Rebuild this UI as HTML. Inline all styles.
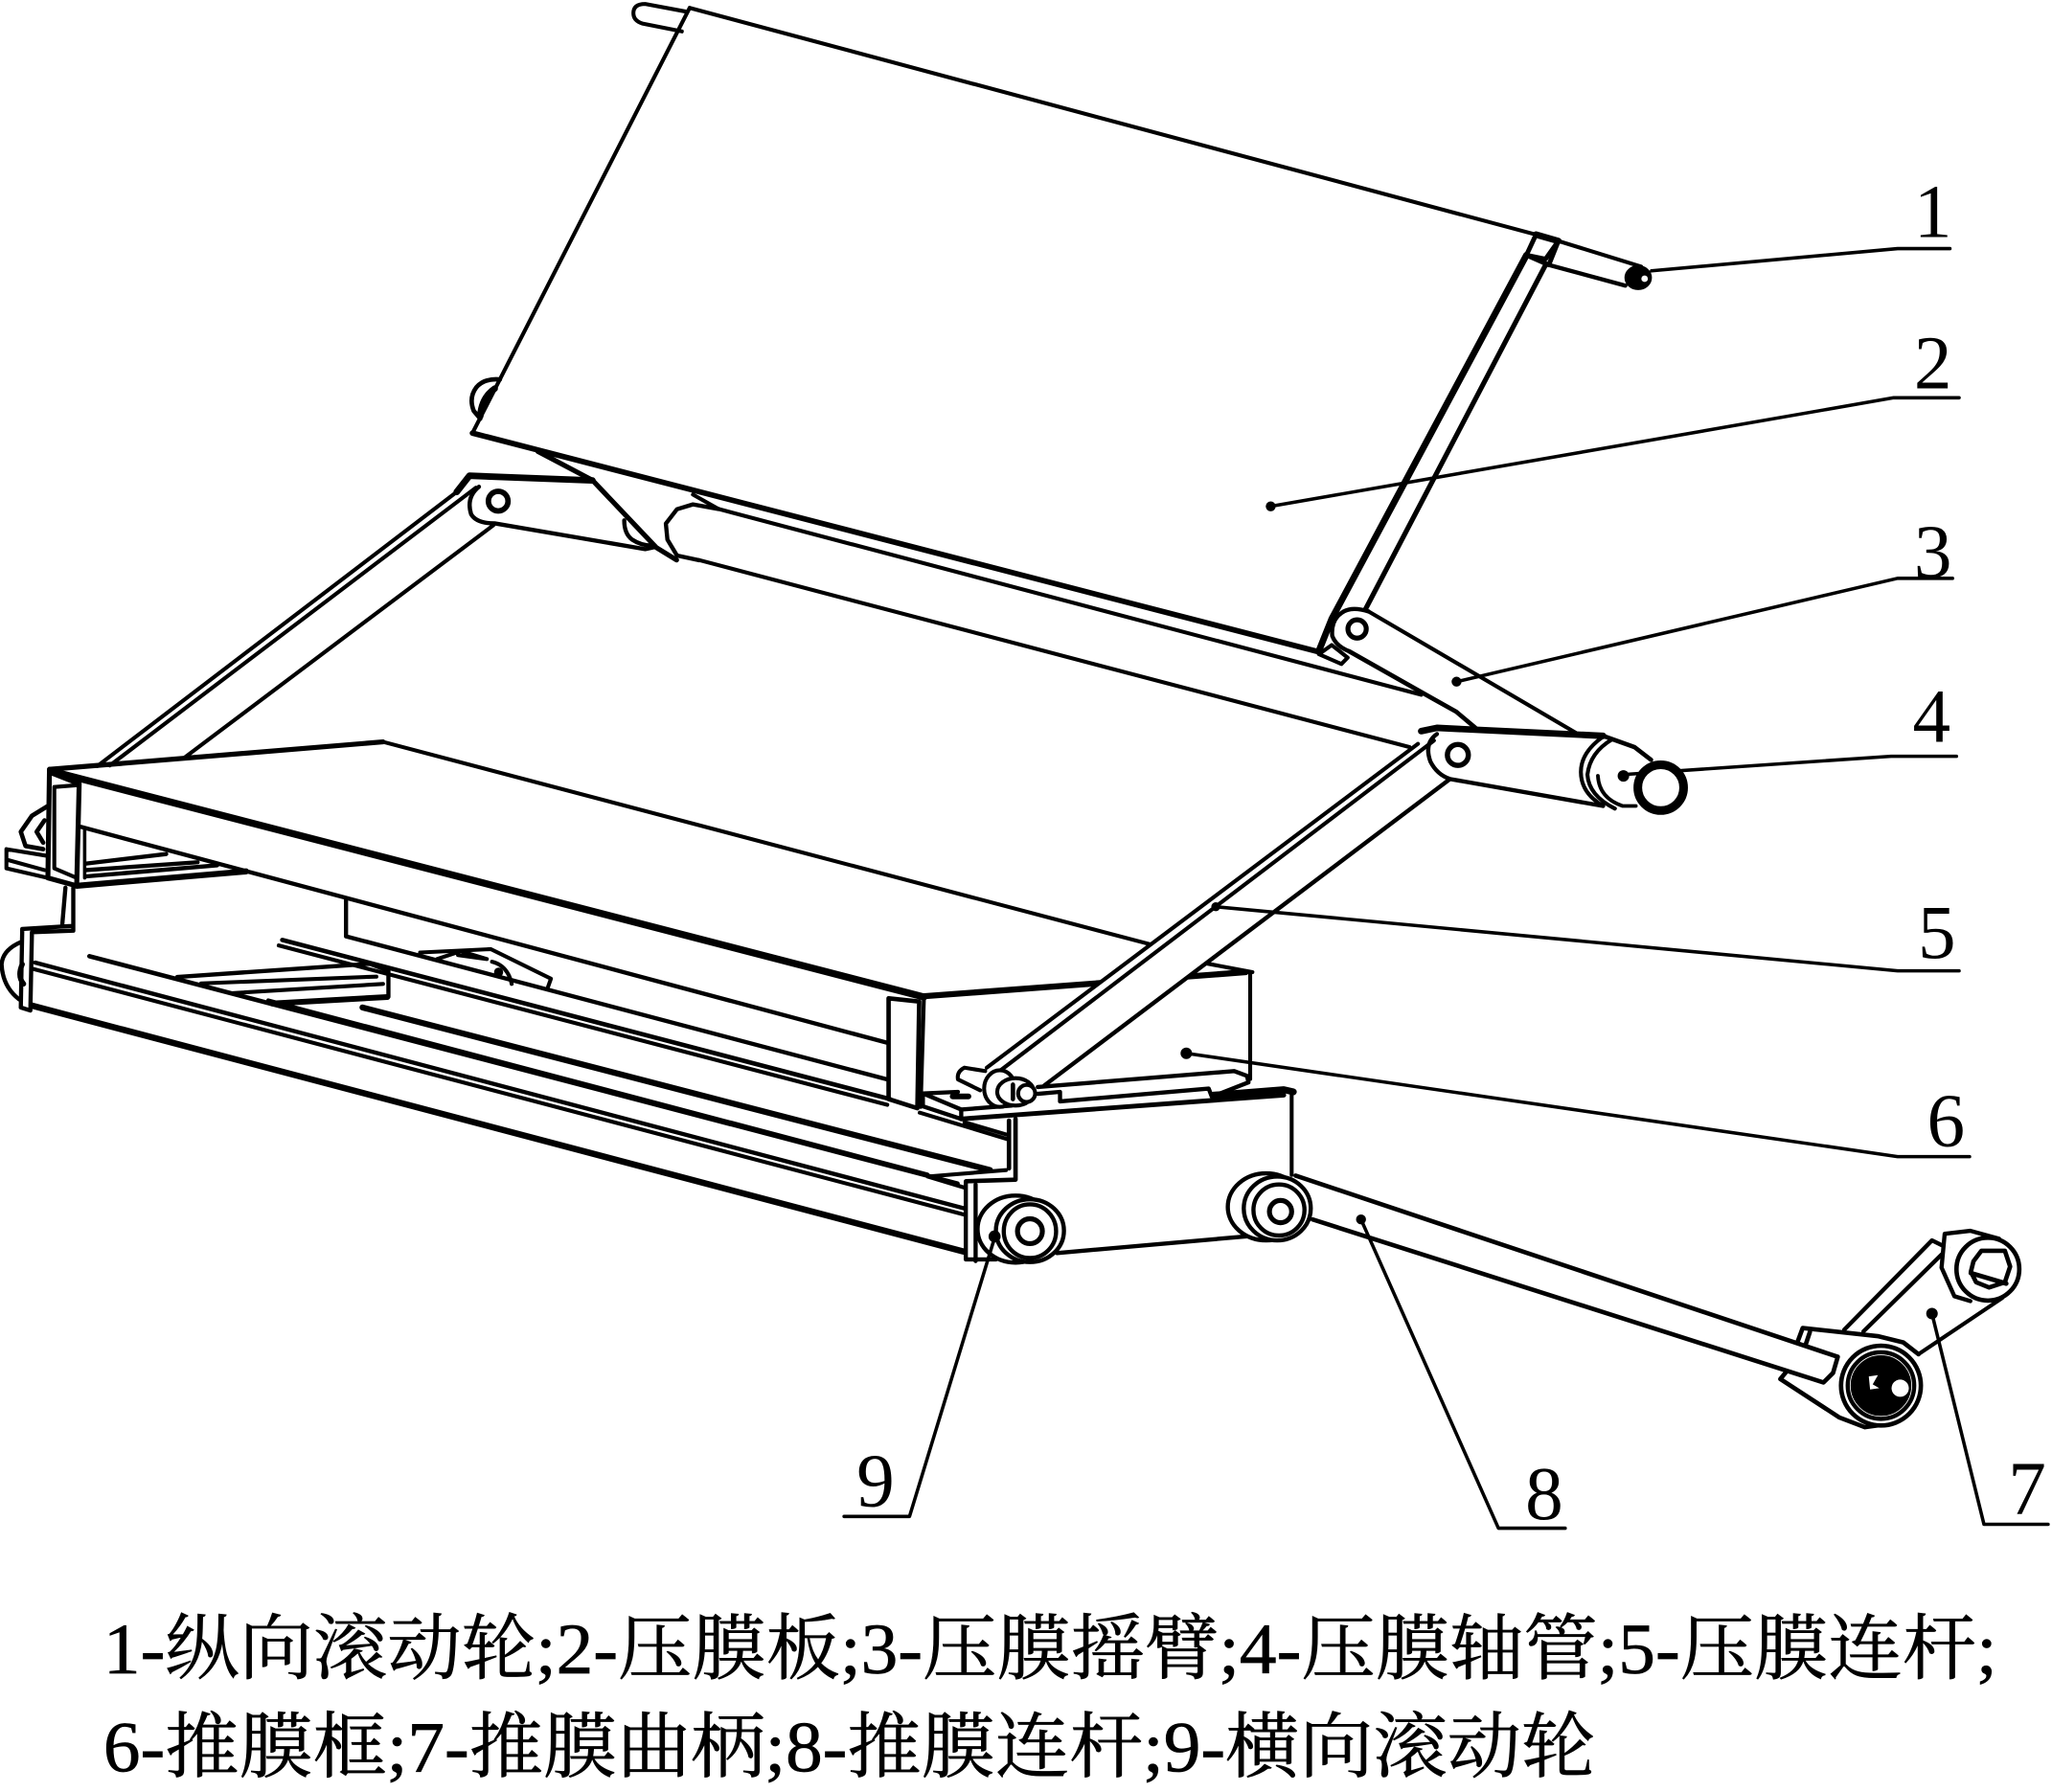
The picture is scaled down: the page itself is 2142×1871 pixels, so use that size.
<!DOCTYPE html>
<html><head><meta charset="utf-8"><style>
html,body{margin:0;padding:0;background:#fff}
svg{display:block}
.t{font-family:"Liberation Serif","Noto Serif CJK SC",serif;fill:#000}
.n{font-size:58px}
.c{font-size:55px;stroke:#000;stroke-width:.5px}
</style></head><body>
<svg width="2142" height="1871" viewBox="0 0 1568 1369.6" xmlns="http://www.w3.org/2000/svg">
<rect width="1568" height="1369.6" fill="#fff"/>
<g fill="none" stroke="#000" stroke-width="3" stroke-linejoin="round" stroke-linecap="round">
<!-- upper roller + panel -->
<path d="M525,9 L493,3 Q484,3 484,10 Q484,16 491,18 L521,24"/>
<path d="M527,6 L1173.7,179.3 L1190.8,184.2 L1254,203.7"/>
<path d="M1173.7,179.3 L1190.8,184.2" stroke-width="5"/>
<path d="M527,6 L361,331"/>
<path d="M361,331 L1007,498" stroke-width="4.2"/>
<path d="M1173.7,179.3 L1166.4,195 L1181,198 L1190.8,184.2 L1183.5,202.5 L1166.4,195" stroke-width="3.6"/>
<path d="M1166.4,195 L1017.6,473 L1008,497" stroke-width="5"/>
<path d="M1181,202.5 L1043.2,466" stroke-width="3.8"/>
<path d="M1183.5,202.5 L1242,218.3" stroke-width="3.2"/>
<ellipse cx="1251.8" cy="212.2" rx="10" ry="9" fill="#000" stroke-width="1"/>
<circle cx="1256.7" cy="213" r="2.5" fill="#fff" stroke="none"/>
<!-- left small roller -->
<path d="M382,290 Q370,289 364,296 Q358,304 362,314 L367,320" stroke-width="3.4"/>
<path d="M378,297 Q368,304 367,318" stroke-width="5"/>
<!-- tube -->
<path d="M549,389 L1086,531" stroke-width="3"/>
<path d="M534,428 L1077,571" stroke-width="3"/>
<path d="M549,389 L529.5,385.5 L517.3,389.2 L508.8,400.2 L510,412.4 L517.3,424.6 L534.4,428.2" stroke-width="3.2"/>
<path d="M529.5,378 L549,389" stroke-width="3"/>
<!-- left arm -->
<path d="M411,345 L452.7,367 L501.5,418.5 L517,428" stroke-width="3.8"/>
<path d="M349,376 L358.7,363.6 L452.7,367.2" stroke-width="5"/>
<path d="M366,372 Q356,380 360,393 Q364,400 378,400 L493,419.7 L501,418" stroke-width="3.2"/>
<path d="M477,397.7 Q477,408 483,412.4 Q490,417 498,417" stroke-width="3.2"/>
<circle cx="380.7" cy="383" r="7.5" stroke-width="4.2"/>
<!-- left rods -->
<path d="M74.5,585.4 L349,376 M84,585 L363.6,372.8" stroke-width="3"/>
<path d="M141,579 L377,401.4" stroke-width="3"/>
<!-- right arm 3 -->
<path d="M1045.7,467.3 L1204,560" stroke-width="3"/>
<path d="M1031,497.8 L1095.7,534.4 L1112.8,544 L1127.4,556.3" stroke-width="3.4"/>
<path d="M1045.7,467.3 Q1032,463 1025,468.5 Q1017,474 1018,486 Q1021,494 1031,497.8" stroke-width="3.2"/>
<path d="M1007.8,500 L1017.6,493 L1029.8,502.6 L1025,507.5 Z" stroke-width="3"/>
<circle cx="1037" cy="480.7" r="7" stroke-width="3.8"/>
<!-- top surface -->
<path d="M37.8,588 L292.7,567" stroke-width="3.8"/>
<path d="M292.7,567 L880,722" stroke-width="3"/>
<path d="M39,589.3 L706,762" stroke-width="5.4"/>
<path d="M62,632 L678,797" stroke-width="3.2"/>
<path d="M705,761.5 L952,743" stroke-width="4.6"/>
<path d="M920,736 L957,743" stroke-width="3"/>
<!-- left post -->
<path d="M37.8,588 L36.6,671 L58.6,677 L60.5,599 L40,591" stroke-width="3.8"/>
<path d="M41.5,601.5 L41.5,663.7 L58.6,671 M41.5,601.5 L60,600" stroke-width="3"/>
<path d="M36.6,616 L24.4,623.5 L15.9,635.7 L19.5,646.6 L33,649" stroke-width="3.4"/>
<path d="M34,627 L28,635.7 L33,644" stroke-width="3.4"/>
<path d="M4.9,649 L4.9,663.7 L36.6,671 M4.9,649 L35.4,654 M4.9,657 L34,665" stroke-width="3"/>
<path d="M64.7,633 L64.7,671" stroke-width="2.6"/>
<path d="M65.9,660 L127,652.7 M65.9,665 L151,659 M65.9,669.8 L166,661.3" stroke-width="3.2"/>
<path d="M58.6,677 L188,666" stroke-width="4.6"/>
<!-- step -->
<path d="M50,678.4 L47.6,706.4 M56,678.4 L56,711.3 L24.4,712.5 M56,707.6 L17,710 L15.9,770 L23.2,772.3 L24.4,712.5" stroke-width="3.2"/>
<path d="M15.9,720 Q2,726 1.2,737 Q2,754 14.6,763.8" stroke-width="3.2"/>
<path d="M17,737 Q13,746 18,752" stroke-width="4"/>
<!-- lower front rails -->
<path d="M26.8,735.7 L737,923.6" stroke-width="3.2"/>
<path d="M25.6,740.6 L737,928.4" stroke-width="3"/>
<path d="M24.4,768.6 L736.2,956.5" stroke-width="4.8"/>
<path d="M68.3,730.8 L731.7,904.6" stroke-width="3.4"/>
<path d="M205,764.6 L708.6,897.6" stroke-width="3"/>
<path d="M277,770 L756.5,894.3" stroke-width="4.6"/>
<path d="M215.7,718.4 L680,840" stroke-width="3.4"/>
<path d="M213,722.6 L678,844.4" stroke-width="3"/>
<path d="M264.4,687.6 L264.4,715.6 L678,825" stroke-width="3.2"/>
<!-- slat box -->
<path d="M135.4,746.7 L282.4,736.6 L296.8,742 L296.8,761.8" stroke-width="3.2"/>
<path d="M153.7,751.6 L287.6,746.4 M178,759 L292.7,752" stroke-width="3"/>
<path d="M208,767 L296,762" stroke-width="4.4"/>
<!-- bracket -->
<path d="M321,728 L375,725.4 L421,748 L418.5,755" stroke-width="3"/>
<path d="M334,733 L352,727 L372,733 L350,730" stroke-width="3"/>
<path d="M376,735 Q388,738 391,752" stroke-width="3"/>
<circle cx="381" cy="743" r="3.5" fill="#000" stroke="none"/>
<!-- right post -->
<path d="M679,763 L679,840 L701,847 L702.4,765.5 L679,763" stroke-width="3.4"/>
<path d="M706,762 L703.5,846" stroke-width="3"/>
<!-- box 6 -->
<path d="M955.3,743 L955.3,824.7" stroke-width="3"/>
<!-- rod 5 white band -->
<path d="M1083.5,568.5 L1108,595.4 L798,829.6 L754,816 Z" fill="#fff" stroke="none"/>
<path d="M1083.5,568.5 L754,816 M1095.7,566 L762,820" stroke-width="3"/>
<path d="M1108,595.4 L798,829.6" stroke-width="3.2"/>
<!-- right link arm -->
<path d="M1086,558.8 L1098,556.3 L1225,562.4" stroke-width="5"/>
<path d="M1225,562.4 L1249,571 L1261.6,580.7" stroke-width="3.4"/>
<path d="M1098,561 Q1088,568 1093,582 Q1098,592 1108,595.4 L1225,616" stroke-width="3.2"/>
<circle cx="1114" cy="577" r="8" stroke-width="4"/>
<path d="M1225,563 Q1208,575 1208,590 Q1208,606 1225,616 M1232,565 Q1215,575 1213,592 Q1214,608 1234,618" stroke-width="3"/>
<path d="M1221,593 Q1222,610 1240,616 L1250,616" stroke-width="2.8"/>
<!-- plate -->
<path d="M705.2,835.7 L705.2,845.5 L734.5,855.2 L734.5,848 L705.2,835.7 L732,834.5 M734.5,848 L773,845" stroke-width="3.2"/>
<path d="M734.5,855.2 L981,837" stroke-width="3.6"/>
<path d="M927,837 L981,832.8 L988.3,834.5" stroke-width="5.2"/>
<path d="M793,830.8 L943.1,818.6 L952.9,822.3 L954,827.2 L926,838.2 L923.6,832 L810,841.8 L810,834.5 L793,836" stroke-width="3.2"/>
<path d="M728,838 L740,838" stroke-width="4.4"/>
<!-- pivot -->
<path d="M752.8,818.6 L737,816 Q731,819 732,825 L749,833.3" fill="#fff" stroke-width="3"/>
<ellipse cx="764" cy="832" rx="12" ry="14" fill="#fff" stroke-width="3"/>
<ellipse cx="776" cy="834.5" rx="14" ry="10.5" fill="#fff" stroke-width="3"/>
<ellipse cx="784.5" cy="835.7" rx="6.5" ry="6.5" fill="#fff" stroke-width="3"/>
<path d="M774,829 L774,840" stroke-width="3.4"/>
<!-- frame 9 -->
<path d="M987,834.5 L987,898" stroke-width="3"/>
<path d="M702.8,850.4 L771,871 M737,857.7 L770,867.4" stroke-width="3"/>
<path d="M771,856.5 L771,893 M776,855.2 L776,901.6 L738.2,902.8" stroke-width="3.4"/>
<path d="M708.9,899.2 L768.7,894.3 M708.9,899.2 L737,907.7" stroke-width="3"/>
<path d="M738,903 L738,962.6 L761,962.6 M745.5,905.3 L745.5,963.8" stroke-width="3.2"/>
<path d="M807.7,957.7 L954,944.8" stroke-width="3.2"/>
<!-- roller 9 -->
<ellipse cx="776" cy="939.4" rx="29" ry="25.6" fill="#fff" stroke-width="3.2"/>
<ellipse cx="787" cy="940.6" rx="26" ry="24" fill="#fff" stroke-width="3.2"/>
<ellipse cx="787" cy="941" rx="20" ry="20.5" stroke-width="3.2"/>
<circle cx="787" cy="941" r="9.5" stroke-width="3.8"/>
<!-- roller 8 -->
<ellipse cx="967.5" cy="922.4" rx="29.3" ry="25.6" fill="#fff" stroke-width="3.2"/>
<ellipse cx="976" cy="923.6" rx="25.6" ry="24.4" fill="#fff" stroke-width="3.2"/>
<circle cx="977.3" cy="924.8" r="19.5" stroke-width="3.2"/>
<circle cx="978.5" cy="926" r="8.5" stroke-width="3.8"/>
<!-- rod 8 -->
<path d="M990,898.5 L1404.3,1037 L1400.7,1049.3 L1393.4,1056.6 L1003,932" stroke-width="3.4"/>
<!-- crank 7 -->
<path d="M1377.5,1015 L1434.8,1021.2 L1454.4,1026 L1466,1035 M1377.5,1015 L1373.8,1025 M1383,1018 L1380,1027" stroke-width="3.4"/>
<path d="M1365.3,1048 L1360.4,1054 L1405.6,1083.4 L1425,1090.8 L1445,1088" stroke-width="3.4"/>
<path d="M1409.2,1016.3 L1476.3,948 L1488.5,954 M1423.9,1017.6 L1488.5,954" stroke-width="3.2"/>
<path d="M1466.6,1034.6 L1530,992" stroke-width="3"/>
<circle cx="1437.3" cy="1059" r="30.5" fill="#fff" stroke-width="3.4"/>
<circle cx="1437.3" cy="1059" r="26" fill="#000" stroke-width="2"/>
<circle cx="1437.3" cy="1059" r="23.5" stroke="#fff" stroke-width=".6"/>
<circle cx="1452" cy="1061" r="6.6" fill="#fff" stroke="none"/>
<path d="M1428,1052 L1435,1051 L1431,1058 L1436,1061 L1429,1062 Z" fill="#fff" stroke="none"/>
<path d="M1486,943 L1505.6,940.7 L1527.6,946.8 M1486,943 L1483.6,968.8 L1493.4,990.7 L1505.6,994.4" fill="#fff" stroke-width="3.2"/>
<circle cx="1519" cy="970" r="24" fill="#fff" stroke-width="3.4"/>
<path d="M1508,964 L1514,956 L1532,956 L1536,968 L1532,980 L1520,984 L1510,980 L1506,972 Z" stroke-width="3.4"/>
<path d="M1506,973 L1533,981" stroke-width="3.6"/>
<!-- leaders -->
<path d="M1262,207 L1450,190 L1490,190" stroke-width="2.6"/>
<path d="M971,387 L1447,304 L1497,304" stroke-width="2.6"/>
<path d="M1113,521 L1450,442 L1492,442" stroke-width="2.6"/>
<path d="M1240,592 L1445,578 L1495,578" stroke-width="2.6"/>
<path d="M929,693 L1450,742 L1497,742" stroke-width="2.6"/>
<path d="M906.5,805 L1450,884 L1505,884" stroke-width="2.6"/>
<path d="M1476.3,1004 L1516,1165 L1565,1165" stroke-width="2.6"/>
<path d="M1040,932 L1145,1168 L1196,1168" stroke-width="2.6"/>
<path d="M760,946 L695,1159 L645,1159" stroke-width="2.6"/>
<!-- tube end over leader -->
<circle cx="1269" cy="602" r="17.5" fill="#fff" stroke-width="6.6"/>
</g>
<g fill="#000">
<circle cx="971" cy="387" r="3.8"/><circle cx="1113" cy="521" r="3.8"/><circle cx="1240.5" cy="593" r="4.4"/>
<circle cx="929" cy="693" r="3.4"/><circle cx="906.5" cy="805" r="4.4"/><circle cx="1476.3" cy="1004" r="4.4"/>
<circle cx="1040" cy="932" r="3.8"/><circle cx="760" cy="945" r="4.6"/>
</g>
<g class="t n" text-anchor="middle">
<text x="1477" y="181">1</text>
<text x="1477" y="297">2</text>
<text x="1477" y="441">3</text>
<text x="1476" y="567">4</text>
<text x="1480" y="732">5</text>
<text x="1487" y="876">6</text>
<text x="1549" y="1157">7</text>
<text x="1180" y="1161">8</text>
<text x="669" y="1151">9</text>
</g>
<text class="t c" x="79" y="1279" textLength="1447" lengthAdjust="spacingAndGlyphs">1-纵向滚动轮;2-压膜板;3-压膜摇臂;4-压膜轴管;5-压膜连杆;</text>
<text class="t c" x="79" y="1354" textLength="1140" lengthAdjust="spacingAndGlyphs">6-推膜框;7-推膜曲柄;8-推膜连杆;9-横向滚动轮</text>
</svg>
</body></html>
